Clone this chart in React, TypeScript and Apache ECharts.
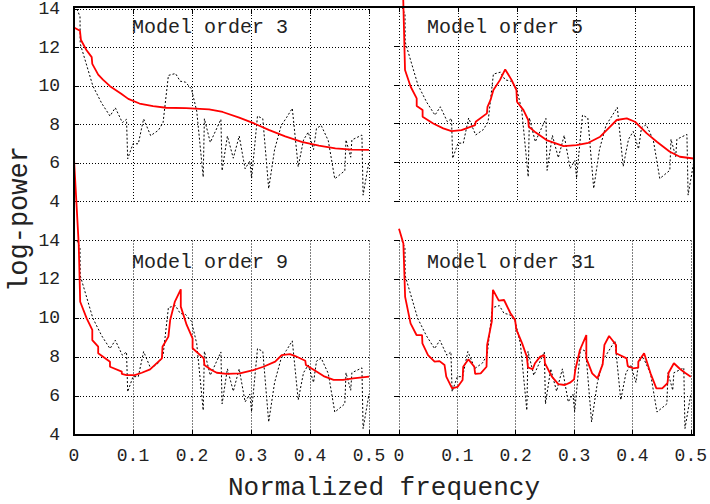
import React, { useEffect, useRef } from "react";
import * as echarts from "echarts";

const panelTitles = ["Model order 3", "Model order 5", "Model order 9", "Model order 31"];
const xAxisName = "Normalized frequency";
const yAxisName = "log-power";

// periodogram (black dotted), same in every panel
const pgFreq = [
  0.005, 0.0102, 0.0105, 0.032, 0.047, 0.061, 0.07, 0.082, 0.089, 0.091,
  0.1, 0.109, 0.118, 0.13, 0.143, 0.151, 0.16, 0.172, 0.18, 0.189,
  0.199, 0.208, 0.219, 0.221, 0.231, 0.249, 0.251, 0.26, 0.27, 0.28,
  0.29, 0.298, 0.301, 0.311, 0.32, 0.33, 0.34, 0.351, 0.36, 0.37,
  0.38, 0.389, 0.397, 0.406, 0.411, 0.419, 0.431, 0.442, 0.459, 0.461,
  0.469, 0.471, 0.488, 0.49, 0.5,
];
const pgPower = [
  14.0, 13.6, 12.2, 10.0, 9.1, 8.44, 8.87, 8.1, 8.27, 6.22,
  7.0, 7.0, 8.29, 7.42, 7.7, 8.1, 10.55, 10.65, 10.25, 10.2,
  9.85, 8.7, 5.27, 8.3, 7.07, 8.27, 5.6, 7.4, 6.25, 7.4,
  5.7, 6.1, 5.2, 8.44, 8.3, 4.67, 6.7, 7.93, 8.35, 8.84,
  5.8, 7.2, 7.6, 6.7, 7.8, 7.95, 7.16, 5.18, 5.6, 7.2,
  6.3, 7.2, 7.45, 4.33, 6.1,
];

// AR spectra (red)
const o3Freq = [0, 0.0101, 0.0118, 0.021, 0.03, 0.031, 0.041, 0.049, 0.061, 0.08, 0.092, 0.111, 0.134, 0.156, 0.19, 0.229, 0.252, 0.28, 0.302, 0.33, 0.358, 0.386, 0.415, 0.443, 0.471, 0.5];
const o3Power = [13.04, 12.87, 12.39, 11.87, 11.5, 11.15, 10.59, 10.33, 9.99, 9.6, 9.33, 9.09, 8.96, 8.87, 8.85, 8.79, 8.65, 8.36, 8.1, 7.72, 7.38, 7.1, 6.9, 6.76, 6.69, 6.68];

const o5Freq = [0, 0.0102, 0.0198, 0.03, 0.03, 0.04, 0.04, 0.058, 0.075, 0.089, 0.106, 0.129, 0.13, 0.149, 0.15, 0.155, 0.16, 0.171, 0.18, 0.191, 0.199, 0.2, 0.211, 0.219, 0.22, 0.23, 0.25, 0.279, 0.301, 0.321, 0.341, 0.352, 0.369, 0.386, 0.4, 0.42, 0.437, 0.459, 0.476, 0.499];
const o5Power = [23, 10.76, 9.9, 9.3, 8.91, 8.7, 8.36, 8.01, 7.76, 7.62, 7.67, 7.93, 8.1, 8.53, 8.87, 9.21, 9.73, 10.24, 10.79, 10.24, 9.73, 9.13, 8.7, 8.19, 7.84, 7.59, 7.16, 6.85, 6.9, 7.02, 7.33, 7.67, 8.19, 8.27, 8.1, 7.5, 7.07, 6.56, 6.3, 6.21];

const o9Freq = [0, 0.008, 0.0105, 0.0215, 0.031, 0.031, 0.041, 0.041, 0.061, 0.061, 0.081, 0.081, 0.089, 0.103, 0.115, 0.129, 0.149, 0.15, 0.16, 0.163, 0.171, 0.181, 0.181, 0.191, 0.201, 0.201, 0.22, 0.221, 0.233, 0.242, 0.259, 0.281, 0.304, 0.321, 0.341, 0.352, 0.366, 0.375, 0.392, 0.393, 0.411, 0.423, 0.44, 0.456, 0.473, 0.5];
const o9Power = [18.2, 13.8, 10.85, 10.0, 9.4, 8.88, 8.54, 8.2, 7.77, 7.51, 7.26, 7.14, 7.08, 7.08, 7.2, 7.37, 7.94, 8.54, 9.06, 9.91, 10.86, 11.49, 10.6, 9.66, 8.97, 8.46, 7.94, 7.6, 7.34, 7.2, 7.14, 7.17, 7.34, 7.51, 7.77, 8.11, 8.16, 8.06, 7.82, 7.6, 7.26, 7.03, 6.83, 6.83, 6.91, 7.0];

const o31Freq = [0, 0.0075, 0.0105, 0.0198, 0.03, 0.0395, 0.0401, 0.0497, 0.061, 0.0695, 0.078, 0.081, 0.091, 0.1006, 0.109, 0.11, 0.119, 0.129, 0.1305, 0.14, 0.15, 0.151, 0.159, 0.161, 0.171, 0.18, 0.191, 0.199, 0.201, 0.211, 0.219, 0.221, 0.229, 0.233, 0.242, 0.249, 0.25, 0.262, 0.273, 0.284, 0.293, 0.3, 0.302, 0.31, 0.321, 0.321, 0.331, 0.34, 0.349, 0.352, 0.36, 0.372, 0.372, 0.39, 0.392, 0.401, 0.41, 0.41, 0.42, 0.431, 0.441, 0.451, 0.46, 0.462, 0.471, 0.482, 0.49, 0.5];
const o31Power = [14.6, 13.85, 11.1, 9.74, 9.14, 9.14, 8.71, 8.11, 7.77, 7.8, 7.6, 7.0, 6.4, 6.48, 6.83, 7.51, 7.89, 7.51, 7.14, 7.17, 7.51, 8.63, 9.83, 11.46, 10.91, 10.94, 10.26, 9.91, 9.43, 8.71, 8.03, 7.48, 7.38, 7.69, 8.03, 8.11, 7.69, 7.0, 6.62, 6.57, 6.69, 6.86, 7.34, 8.37, 9.14, 7.94, 7.17, 6.91, 7.63, 8.63, 9.09, 8.63, 8.2, 7.94, 7.54, 7.43, 7.46, 7.77, 8.2, 7.17, 6.4, 6.4, 6.66, 7.2, 7.69, 7.38, 7.2, 7.0];

const redFreqs = [o3Freq, o5Freq, o9Freq, o31Freq];
const redPowers = [o3Power, o5Power, o9Power, o31Power];

const FONT = '"Liberation Mono", "DejaVu Sans Mono", monospace';

const pairs = (xs: number[], ys: number[]) => xs.map((x, i) => [x, ys[i]]);

export default function App() {
  const ref = useRef<HTMLDivElement>(null);
  useEffect(() => {
    if (!ref.current) return;
    const chart = echarts.init(ref.current, null, { renderer: "svg" });

    const grids = [
      { left: 74, top: 7, width: 295, height: 194.5 },
      { left: 399, top: 7, width: 295, height: 194.5 },
      { left: 74, top: 240.5, width: 295, height: 194.5 },
      { left: 399, top: 240.5, width: 295, height: 194.5 },
    ];
    const split = { show: true, lineStyle: { color: "#000", type: [1, 2] as any, width: 1 } };
    const tick = { show: true, inside: true, length: 5, lineStyle: { color: "#000", width: 1 } };

    const xAxis = grids.map((_, i) => ({
      type: "value",
      gridIndex: i,
      min: 0,
      max: 0.5,
      interval: 0.1,
      position: i < 2 ? "top" : "bottom",
      axisLine: { show: false },
      axisTick: tick,
      splitLine: split,
      axisLabel: {
        show: i >= 2,
        margin: 12,
        fontFamily: FONT,
        fontSize: 18,
        color: "#222",
        formatter: (v: number) => (v === 0 ? "0" : v.toFixed(1)),
      },
    }));
    const yAxis = grids.map((_, i) => ({
      type: "value",
      gridIndex: i,
      min: 4,
      max: 14,
      interval: 2,
      position: i % 2 === 0 ? "left" : "right",
      axisLine: { show: false },
      axisTick: tick,
      splitLine: split,
      axisLabel: {
        show: i % 2 === 0,
        margin: 14,
        fontFamily: FONT,
        fontSize: 18,
        color: "#222",
      },
    }));

    const series: any[] = [];
    grids.forEach((_, i) => {
      series.push({
        type: "line",
        xAxisIndex: i,
        yAxisIndex: i,
        data: pairs(pgFreq, pgPower),
        showSymbol: false,
        clip: false,
        lineStyle: { color: "#000", width: 1, type: [2, 2] },
        z: 3,
      });
      series.push({
        type: "line",
        xAxisIndex: i,
        yAxisIndex: i,
        data: pairs(redFreqs[i], redPowers[i]),
        showSymbol: false,
        clip: false,
        lineStyle: { color: "#ff0000", width: 1.8 },
        z: 4,
      });
    });

    const titlePos = [
      [132, 27],
      [427, 27],
      [132, 262],
      [427, 262],
    ];

    const graphic: any[] = [
      {
        type: "rect",
        shape: { x: 74, y: 7, width: 620, height: 428 },
        style: { fill: "none", stroke: "#000", lineWidth: 2 },
        z: 100,
        silent: true,
      },
      ...panelTitles.map((t, i) => ({
        type: "text",
        x: titlePos[i][0],
        y: titlePos[i][1],
        z: 101,
        style: {
          text: t,
          fontFamily: FONT,
          fontSize: 20,
          fill: "#222",
          textAlign: "left",
          align: "left",
          textVerticalAlign: "middle",
          verticalAlign: "middle",
        },
      })),
      {
        type: "text",
        x: 384,
        y: 488,
        z: 101,
        style: {
          text: xAxisName,
          fontFamily: FONT,
          fontSize: 26,
          fill: "#222",
          textAlign: "center",
          align: "center",
          textVerticalAlign: "middle",
          verticalAlign: "middle",
        },
      },
      {
        type: "text",
        x: 20,
        y: 219,
        rotation: Math.PI / 2,
        z: 101,
        style: {
          text: yAxisName,
          fontFamily: FONT,
          fontSize: 27,
          fill: "#222",
          textAlign: "center",
          align: "center",
          textVerticalAlign: "middle",
          verticalAlign: "middle",
        },
      },
    ];

    chart.setOption({
      animation: false,
      backgroundColor: "#fff",
      grid: grids,
      xAxis,
      yAxis,
      series,
      graphic,
    });
    return () => chart.dispose();
  }, []);

  return <div ref={ref} style={{ width: 710, height: 504, position: "absolute", left: 0, top: 0 }} />;
}
